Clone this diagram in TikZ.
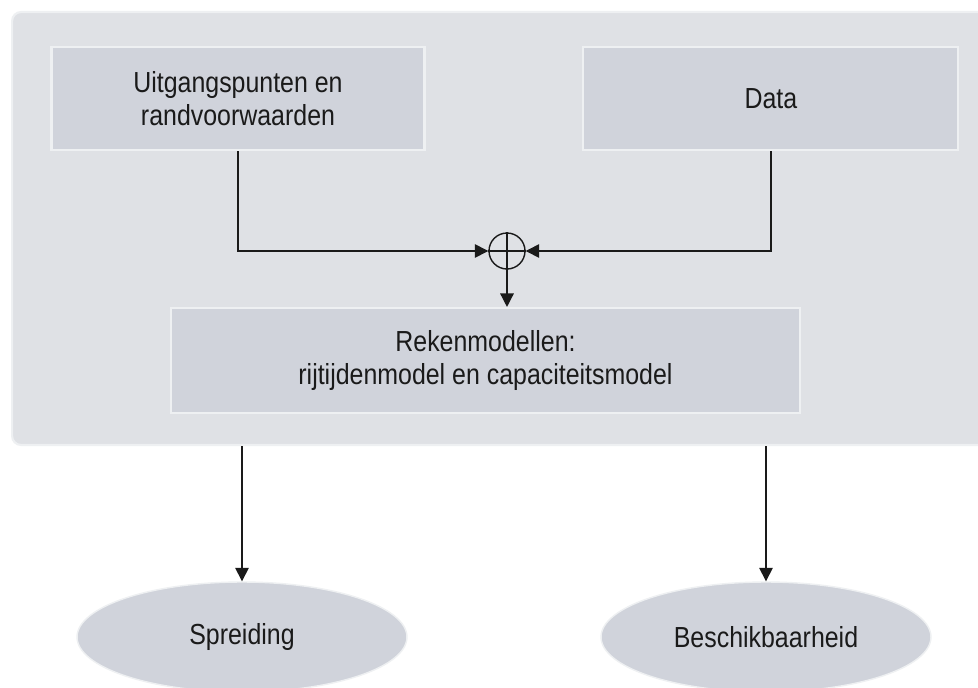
\documentclass[tikz,border=0pt]{standalone}
\usepackage{fontspec}
\setmainfont{Liberation Sans}[FakeStretch=0.86]
\usepackage{xcolor}
\usepackage{tikz}
\usetikzlibrary{arrows.meta,shapes.geometric,positioning}

\definecolor{panelgray}{HTML}{DFE1E5}
\definecolor{boxgray}{HTML}{D0D3DB}
\definecolor{rimgray}{HTML}{EEF0F2}
\definecolor{inkgray}{HTML}{1A1A1A}

\begin{document}
\begin{tikzpicture}[x=0.02cm, y=-0.02cm,
  >={Triangle[length=0.27cm,width=0.27cm]},
  every node/.style={font=\fontsize{16.5}{19}\selectfont, text=inkgray, align=center},
  panelbox/.style={draw=rimgray, line width=1.2pt, fill=panelgray, rectangle, rounded corners=0.18cm, minimum width=19.76cm, minimum height=8.66cm},
  stepbox/.style={draw=rimgray, line width=1.2pt, fill=boxgray, rectangle, minimum height=2.06cm},
  outcome/.style={draw=rimgray, line width=0.8pt, fill=boxgray, ellipse, inner sep=0pt, minimum width=6.6cm, minimum height=2.2cm},
  link/.style={draw=inkgray, line width=0.8pt}]
\clip (0,0) rectangle (978,687);
\fill[white] (0,0) rectangle (978,687);

\node[panelbox] (panel) at (506,228.5) {};
\node[stepbox, minimum width=7.46cm] (uit) at (238,98.5) {Uitgangspunten en\\randvoorwaarden};
\node[stepbox, minimum width=7.5cm, right of=uit, node distance=10.66cm] (data) {Data};
\node[draw=inkgray, line width=0.8pt, circle, minimum size=0.72cm, inner sep=0pt] (sum) at (507,251) {};
\node[stepbox, minimum width=12.58cm, minimum height=2.1cm] (reken) at (485.5,360.5) {Rekenmodellen:\\rijtijdenmodel en capaciteitsmodel};
\node[outcome] (spreiding) at (242,637) {Spreiding};
\node[outcome] (beschik) at (766,637) {Beschikbaarheid};

% optelpunt
\draw[link] (sum.north) -- (sum.south);
\draw[link] (sum.west) -- (sum.east);

\draw[link, ->] (uit.south) |- (sum.west);
\draw[link, ->] (data.south) |- (sum.east);
\draw[link, ->] (sum.south) -- (sum.south |- reken.north);
\draw[link, ->] (panel.south -| spreiding.north) -- (spreiding.north);
\draw[link, ->] (panel.south -| beschik.north) -- (beschik.north);
\end{tikzpicture}
\end{document}
